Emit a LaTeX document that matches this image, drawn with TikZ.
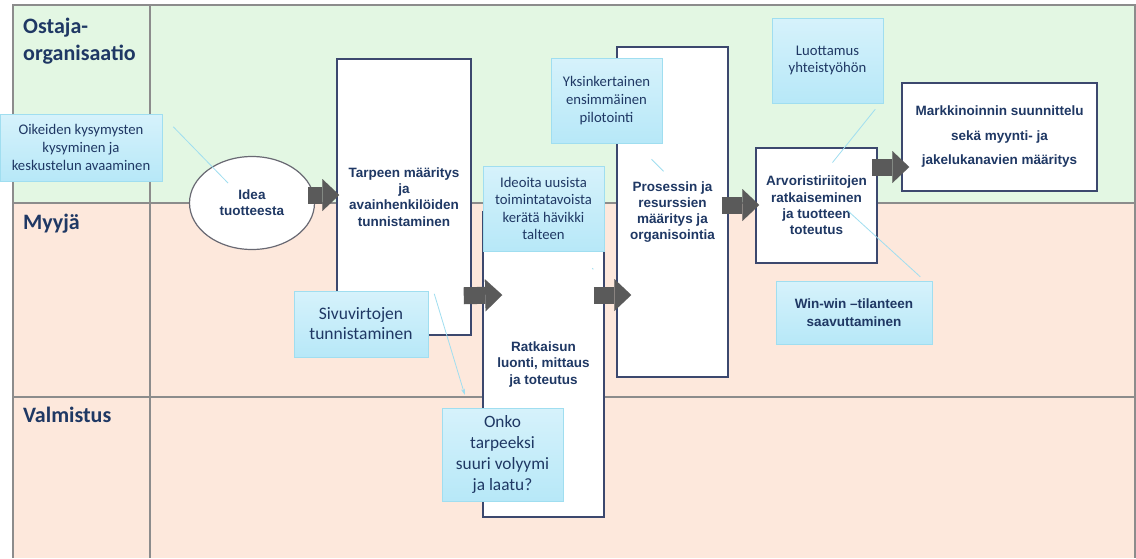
\documentclass[tikz,border=0pt]{standalone}
\usepackage{fontspec}
\setmainfont{Liberation Sans}
\newfontfamily\notefont{Carlito}
\usetikzlibrary{shapes.geometric,arrows.meta,calc}
\definecolor{navy}{RGB}{31,56,100}
\definecolor{lanegreen}{RGB}{227,247,227}
\definecolor{lanepeach}{RGB}{253,232,220}
\definecolor{framegrey}{RGB}{140,140,140}
\definecolor{boxline}{RGB}{60,72,110}
\definecolor{ellgrey}{RGB}{105,105,115}
\definecolor{arrowgrey}{RGB}{90,90,90}
\definecolor{notetop}{RGB}{214,242,251}
\definecolor{notebot}{RGB}{183,232,248}
\definecolor{noteline}{RGB}{160,222,240}
\begin{document}
\begin{tikzpicture}[x=1pt, y=-1pt,
    lane/.style={anchor=north west, inner sep=0pt, align=left, text=navy,
      font=\notefont\bfseries\fontsize{22}{27}\selectfont},
    box/.style={draw=boxline, line width=1.5pt, fill=white, align=center,
      inner sep=2pt, text=navy, font=\bfseries\fontsize{13.5}{16.3}\selectfont},
    note/.style={top color=notetop, bottom color=notebot, draw=noteline,
      line width=0.5pt, align=center, inner sep=2pt, text=navy,
      font=\notefont\fontsize{14.7}{17.8}\selectfont},
    blk/.style={line width=17pt, draw=arrowgrey,
      -{Triangle[length=17pt 0 0, width=32pt 0 0, line width=0.01pt]}},
    link/.style={draw=noteline, line width=0.8pt},
  ]
  \useasboundingbox (0,0) rectangle (1136,558);
  % swimlanes
  \fill[lanegreen] (13,5) rectangle (1135,203);
  \fill[lanepeach] (13,203) rectangle (1135,558);
  \draw[framegrey, line width=1.5pt] (13,558) -- (13,5) -- (1135,5) -- (1135,558);
  \draw[framegrey, line width=1.5pt] (13,203) -- (1135,203) (13,397) -- (1135,397)
    (150,5) -- (150,558);
  \node[lane] (ostaja) at (23,18) {Ostaja-\\organisaatio};
  \node[lane] (myyja) at (23,214) {Myyjä};
  \node[lane] (valm) at (23,407) {Valmistus};

  % process steps
  \node[box, ellipse, draw=ellgrey, line width=1.2pt, inner sep=0pt,
    minimum width=125pt, minimum height=93pt] (idea) at (252,203) {Idea\\tuotteesta};
  \node[box, minimum width=134pt, minimum height=276pt] (tarpeen) at (404,197)
    {Tarpeen määritys\\ja\\avainhenkilöiden\\tunnistaminen};
  \node[box, minimum width=121pt, minimum height=305pt] (ratk) at (543.5,364.5)
    {Ratkaisun\\luonti, mittaus\\ja toteutus};
  \node[box, minimum width=111pt, minimum height=330pt] (pros) at (672.5,212)
    {Prosessin ja\\resurssien\\määritys ja\\organisointia};
  \node[box, minimum width=121pt, minimum height=115pt] (arv) at (816.5,205.5)
    {Arvoristiriitojen\\ratkaiseminen\\ja tuotteen\\toteutus};
  \node[box, minimum width=195pt, minimum height=108pt,
    font=\bfseries\fontsize{13.5}{24.5}\selectfont] (mark) at (999.5,137)
    {Markkinoinnin suunnittelu\\sekä myynti- ja\\jakelukanavien määritys};

  % block arrows
  \draw[blk] ($(idea.east)+(-7,-8)$) -- ($(tarpeen.west)+(3,-2)$);
  \draw[blk] ($(tarpeen.south east)+(-8,-40)$) -- ($(ratk.west)+(20,-69.5)$);
  \draw[blk] ($(ratk.east)+(-11,-69.5)$) -- ($(pros.west)+(15,83)$);
  \draw[blk] ($(pros.east)+(-7,-7)$) -- ($(arv.west)+(4,-0.5)$);
  \draw[blk] ($(arv.east)+(-6,-38.5)$) -- ($(mark.west)+(8,30)$);

  % comments
  \node[note, minimum width=162pt, minimum height=67pt] (oik) at (81,147.5)
    {Oikeiden kysymysten\\kysyminen ja\\keskustelun avaaminen};
  \node[note, minimum width=111pt, minimum height=85pt] (yks) at (606.5,100.5)
    {Yksinkertainen\\ensimmäinen\\pilotointi};
  \node[note, minimum width=121pt, minimum height=85pt,
    font=\notefont\fontsize{14.7}{17.4}\selectfont] (ide) at (543.5,208.5)
    {Ideoita uusista\\toimintatavoista\\kerätä hävikki\\talteen};
  \node[note, minimum width=111pt, minimum height=85pt] (luo) at (827.5,60.5)
    {Luottamus\\yhteistyöhön};
  \node[note, minimum width=156pt, minimum height=63pt,
    font=\bfseries\fontsize{13.5}{17.6}\selectfont] (win) at (854,312.5)
    {Win-win –tilanteen\\saavuttaminen};
  \node[note, minimum width=134pt, minimum height=66pt,
    font=\notefont\fontsize{17.5}{20}\selectfont] (sivu) at (361,324)
    {Sivuvirtojen\\tunnistaminen};
  \node[note, minimum width=121pt, minimum height=93pt,
    font=\notefont\fontsize{17.3}{20.8}\selectfont] (onko) at (502.5,454.5)
    {Onko\\tarpeeksi\\suuri volyymi\\ja laatu?};

  % comment pointers
  \draw[link] ($(oik.north east)+(11,13)$) -- ($(idea.center)+(-24,-20)$);
  \draw[link] ($(yks.south)+(45,16)$) -- ($(yks.south)+(57,28)$);
  \draw[link] ($(ide.south east)+(-12,17)$) -- ($(ide.south east)+(-11,18)$);
  \draw[link] ($(luo.south east)+(-8,6)$) -- ($(arv.center)+(16,-43)$);
  \draw[link] ($(arv.center)+(31,5)$) -- ($(win.north east)+(-12,-4)$);
  \draw[link, -{Stealth[length=6pt, width=4pt]}] ($(sivu.north east)+(6,3)$)
    -- ($(onko.north west)+(23,-13)$);
\end{tikzpicture}
\end{document}
